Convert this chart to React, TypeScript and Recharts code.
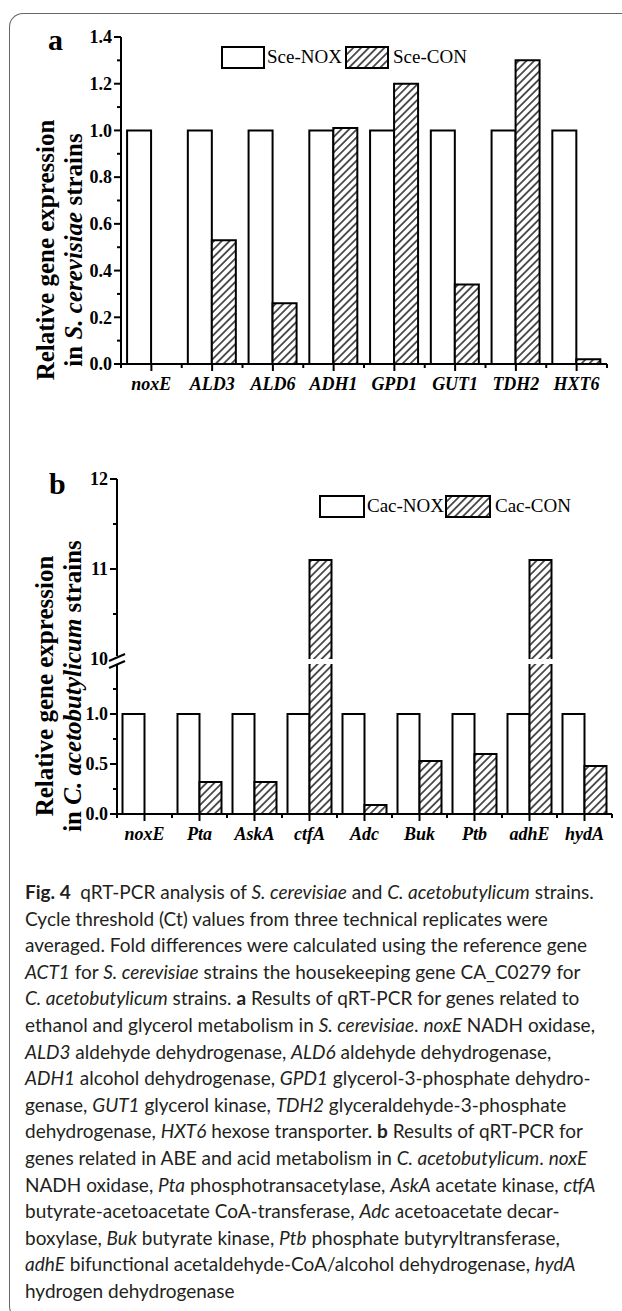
import React from 'react';
import { BarChart, Bar, XAxis, YAxis, Legend } from 'recharts';

// ---------- data ----------
const genesA = ['noxE', 'ALD3', 'ALD6', 'ADH1', 'GPD1', 'GUT1', 'TDH2', 'HXT6'];
const sceNox = [1, 1, 1, 1, 1, 1, 1, 1];
const sceCon = [0, 0.53, 0.26, 1.01, 1.2, 0.34, 1.3, 0.02];
const seriesNamesA = ['Sce-NOX', 'Sce-CON'];
const ticksAMajor = [0, 0.2, 0.4, 0.6, 0.8, 1.0, 1.2, 1.4];
const ticksAMinor = [0.1, 0.3, 0.5, 0.7, 0.9, 1.1, 1.3];

const genesB = ['noxE', 'Pta', 'AskA', 'ctfA', 'Adc', 'Buk', 'Ptb', 'adhE', 'hydA'];
const cacNox = [1, 1, 1, 1, 1, 1, 1, 1, 1];
const cacCon = [0, 0.32, 0.32, 11.1, 0.09, 0.53, 0.6, 11.1, 0.48];
const seriesNamesB = ['Cac-NOX', 'Cac-CON'];
const ticksBLowMajor = [0, 0.5, 1.0];
const ticksBLowMinor = [0.25, 0.75, 1.25];
const ticksBHighMajor = [10, 11, 12];
const ticksBHighMinor = [10.5, 11.5];
const domainBLow = [0, 1.5];
const domainBHigh = [10, 12];

const dataA = genesA.map((g, i) => ({ gene: g, nox: sceNox[i], con: sceCon[i] }));
const dataBLow = genesB.map((g, i) => ({ gene: g, nox: cacNox[i], con: cacCon[i] }));
const dataBHigh = genesB.map((g, i) => ({
  gene: g,
  nox: null,
  con: cacCon[i] >= domainBHigh[0] ? cacCon[i] : null,
}));

// ---------- layout ----------
const W = 622;
const SERIF = '"Liberation Serif", "Times New Roman", serif';
const A = { top: 37, bottom: 46, right: 15, axisW: 121, h: 440 };
const BH = { top: 39, bottom: 11, right: 10, axisW: 117, h: 230 };
const BL = { top: 44, bottom: 56, right: 10, axisW: 117, h: 280 };

const hatchDefs = (id: string) => (
  <defs>
    <pattern id={id} patternUnits="userSpaceOnUse" width="5.5" height="5.5" patternTransform="rotate(45)">
      <rect width="5.5" height="5.5" fill="#fff" />
      <line x1="2.75" y1="0" x2="2.75" y2="5.5" stroke="#000" strokeWidth="1.3" />
    </pattern>
  </defs>
);

const makeShape = (fill: string, clipTop?: number) => (p: any) => {
  const { x, y, width, height } = p;
  if (!(height > 0.5) || !(width > 0)) return <g />;
  let top = y;
  const bottom = y + height;
  let openTop = false;
  if (clipTop !== undefined && top < clipTop) {
    top = clipTop;
    openTop = true;
  }
  const d = openTop
    ? `M${x},${bottom}V${top}M${x + width},${top}V${bottom}`
    : `M${x},${bottom}V${top}H${x + width}V${bottom}`;
  return (
    <g>
      <rect x={x} y={top} width={width} height={bottom - top} fill={fill} />
      <path d={d} fill="none" stroke="#000" strokeWidth={2} />
    </g>
  );
};

const makeYTick = (minor: number[], fmt: (v: number) => string) => (p: any) => {
  const { x, y, payload } = p;
  const v = payload.value;
  const isMinor = minor.includes(v);
  return (
    <g>
      <line x1={x} x2={x - (isMinor ? 4 : 7)} y1={y} y2={y} stroke="#000" strokeWidth={2} />
      {!isMinor && (
        <text x={x - 9} y={y} dy="0.35em" textAnchor="end" fontFamily={SERIF} fontWeight="bold" fontSize={18} fill="#000">
          {fmt(v)}
        </text>
      )}
    </g>
  );
};

const makeXTick = (band: number, count: number) => (p: any) => {
  const { x, y, payload, index } = p;
  return (
    <g>
      <line x1={x} x2={x} y1={y} y2={y + 7} stroke="#000" strokeWidth={2} />
      <line x1={x - band / 2} x2={x - band / 2} y1={y} y2={y + 4} stroke="#000" strokeWidth={2} />
      {index === count - 1 && (
        <line x1={x + band / 2} x2={x + band / 2} y1={y} y2={y + 4} stroke="#000" strokeWidth={2} />
      )}
      <text x={x} y={y + 26} textAnchor="middle" fontFamily={SERIF} fontWeight="bold" fontStyle="italic" fontSize={18} fill="#000">
        {payload.value}
      </text>
    </g>
  );
};

const LegendBox = ({ names, pid, boxW, gap }: { names: string[]; pid: string; boxW: number; gap: number }) => (
  <svg width={270} height={28} style={{ display: 'block', overflow: 'visible' }}>
    {hatchDefs(pid)}
    <rect x={2} y={2} width={boxW} height={21} fill="#fff" stroke="#000" strokeWidth={2} />
    <text x={boxW + 5} y={18} fontFamily={SERIF} fontSize={19} fill="#000">{names[0]}</text>
    <rect x={gap} y={2} width={boxW} height={21} fill={`url(#${pid})`} stroke="#000" strokeWidth={2} />
    <text x={gap + boxW + 5} y={18} fontFamily={SERIF} fontSize={19} fill="#000">{names[1]}</text>
  </svg>
);

const bandA = (W - A.axisW - A.right) / genesA.length;
const bandB = (W - BL.axisW - BL.right) / genesB.length;

const fmt1 = (v: number) => v.toFixed(1);
const fmt0 = (v: number) => String(v);

const captionLines: React.ReactNode[] = [
  <><b>Fig. 4</b>{'\u2002'}qRT-PCR analysis of <i>S. cerevisiae</i> and <i>C. acetobutylicum</i> strains.</>,
  <>Cycle threshold (Ct) values from three technical replicates were</>,
  <>averaged. Fold differences were calculated using the reference gene</>,
  <><i>ACT1</i> for <i>S. cerevisiae</i> strains the housekeeping gene CA_C0279 for</>,
  <><i>C. acetobutylicum</i> strains. <b>a</b> Results of qRT-PCR for genes related to</>,
  <>ethanol and glycerol metabolism in <i>S. cerevisiae</i>. <i>noxE</i> NADH oxidase,</>,
  <><i>ALD3</i> aldehyde dehydrogenase, <i>ALD6</i> aldehyde dehydrogenase,</>,
  <><i>ADH1</i> alcohol dehydrogenase, <i>GPD1</i> glycerol-3-phosphate dehydro-</>,
  <>genase, <i>GUT1</i> glycerol kinase, <i>TDH2</i> glyceraldehyde-3-phosphate</>,
  <>dehydrogenase, <i>HXT6</i> hexose transporter. <b>b</b> Results of qRT-PCR for</>,
  <>genes related in ABE and acid metabolism in <i>C. acetobutylicum</i>. <i>noxE</i></>,
  <>NADH oxidase, <i>Pta</i> phosphotransacetylase, <i>AskA</i> acetate kinase, <i>ctfA</i></>,
  <>butyrate-acetoacetate CoA-transferase, <i>Adc</i> acetoacetate decar-</>,
  <>boxylase, <i>Buk</i> butyrate kinase, <i>Ptb</i> phosphate butyryltransferase,</>,
  <><i>adhE</i> bifunctional acetaldehyde-CoA/alcohol dehydrogenase, <i>hydA</i></>,
  <>hydrogen dehydrogenase</>,
];

export default function App() {
  const axisStyle = { stroke: '#000', strokeWidth: 2 };
  const legendProps: any = { layout: 'vertical', align: 'center', verticalAlign: 'middle' };
  return (
    <div style={{ position: 'absolute', left: 0, top: 0, width: W, height: 1311, background: '#fff', overflow: 'hidden' }}>
      {/* frame */}
      <div style={{ position: 'absolute', left: 9, top: 13, width: 720, height: 1305, borderTop: '1.5px solid #666', borderLeft: '1.5px solid #666', borderBottom: '1.5px solid #666', borderTopLeftRadius: 14, borderBottomLeftRadius: 14 }} />

      {/* panel a */}
      <div style={{ position: 'absolute', left: 0, top: 0 }}>
        <BarChart width={W} height={A.h} data={dataA} barCategoryGap="10%" barGap={0} margin={{ top: A.top, right: A.right, bottom: A.bottom, left: 0 }}>
          {hatchDefs('hatchA')}
          <XAxis dataKey="gene" interval={0} tickSize={0} tickMargin={0} tickLine={false} axisLine={axisStyle} tick={makeXTick(bandA, genesA.length)} />
          <YAxis width={A.axisW} domain={[0, 1.4]} ticks={[...ticksAMajor, ...ticksAMinor]} interval={0} tickSize={0} tickMargin={0} tickLine={false} axisLine={axisStyle} tick={makeYTick(ticksAMinor, fmt1)} allowDataOverflow />
          <Legend {...legendProps} wrapperStyle={{ left: 220, top: 45, width: 270 }} content={() => <LegendBox names={seriesNamesA} pid="hatchLA" boxW={42} gap={126} />} />
          <Bar dataKey="nox" name={seriesNamesA[0]} isAnimationActive={false} shape={makeShape('#fff')} />
          <Bar dataKey="con" name={seriesNamesA[1]} isAnimationActive={false} shape={makeShape('url(#hatchA)')} />
        </BarChart>
      </div>

      {/* panel b upper segment */}
      <div style={{ position: 'absolute', left: 0, top: 440 }}>
        <BarChart width={W} height={BH.h} data={dataBHigh} barCategoryGap="10%" barGap={0} margin={{ top: BH.top, right: BH.right, bottom: BH.bottom, left: 0 }}>
          {hatchDefs('hatchBH')}
          <XAxis dataKey="gene" hide />
          <YAxis width={BH.axisW} domain={domainBHigh} ticks={[...ticksBHighMajor, ...ticksBHighMinor]} interval={0} tickSize={0} tickMargin={0} tickLine={false} axisLine={axisStyle} tick={makeYTick(ticksBHighMinor, fmt0)} allowDataOverflow />
          <Legend {...legendProps} wrapperStyle={{ left: 318, top: 54, width: 270 }} content={() => <LegendBox names={seriesNamesB} pid="hatchLB" boxW={44} gap={128} />} />
          <Bar dataKey="nox" name={seriesNamesB[0]} isAnimationActive={false} shape={makeShape('#fff')} />
          <Bar dataKey="con" name={seriesNamesB[1]} isAnimationActive={false} shape={makeShape('url(#hatchBH)')} />
        </BarChart>
      </div>

      {/* panel b lower segment */}
      <div style={{ position: 'absolute', left: 0, top: 620 }}>
        <BarChart width={W} height={BL.h} data={dataBLow} barCategoryGap="10%" barGap={0} margin={{ top: BL.top, right: BL.right, bottom: BL.bottom, left: 0 }}>
          {hatchDefs('hatchBL')}
          <XAxis dataKey="gene" interval={0} tickSize={0} tickMargin={0} tickLine={false} axisLine={axisStyle} tick={makeXTick(bandB, genesB.length)} />
          <YAxis width={BL.axisW} domain={domainBLow} ticks={[...ticksBLowMajor, ...ticksBLowMinor]} interval={0} tickSize={0} tickMargin={0} tickLine={false} axisLine={axisStyle} tick={makeYTick(ticksBLowMinor, fmt1)} allowDataOverflow />
          <Bar dataKey="nox" name={seriesNamesB[0]} isAnimationActive={false} shape={makeShape('#fff', BL.top)} />
          <Bar dataKey="con" name={seriesNamesB[1]} isAnimationActive={false} shape={makeShape('url(#hatchBL)', BL.top)} />
        </BarChart>
      </div>

      {/* overlay: panel letters, axis titles, axis break */}
      <svg width={W} height={1311} style={{ position: 'absolute', left: 0, top: 0, pointerEvents: 'none' }}>
        <text x={48} y={50} fontFamily={SERIF} fontWeight="bold" fontSize={30} fill="#000">a</text>
        <text x={49} y={494} fontFamily={SERIF} fontWeight="bold" fontSize={30} fill="#000">b</text>
        <g fontFamily={SERIF} fontWeight="bold" fontSize={25} fill="#000" textAnchor="middle">
          <text transform="translate(54,250) rotate(-90)">Relative gene expression</text>
          <text transform="translate(82,250) rotate(-90)">in <tspan fontStyle="italic">S. cerevisiae</tspan> strains</text>
          <text transform="translate(53,686) rotate(-90)">Relative gene expression</text>
          <text transform="translate(81,686) rotate(-90)">in <tspan fontStyle="italic">C. acetobutylicum</tspan> strains</text>
        </g>
        <rect x={110} y={656} width={14} height={9} fill="#fff" />
        <line x1={109} y1={661} x2={125} y2={654} stroke="#000" strokeWidth={2} />
        <line x1={109} y1={668} x2={125} y2={661} stroke="#000" strokeWidth={2} />
      </svg>

      {/* caption */}
      <div style={{ position: 'absolute', left: 25, top: 879, fontFamily: 'Lato, "Noto Sans", sans-serif', fontSize: 19, lineHeight: '26.6px', color: '#231f20', whiteSpace: 'nowrap' }}>
        {captionLines.map((l, i) => (
          <div key={i}>{l}</div>
        ))}
      </div>
    </div>
  );
}
